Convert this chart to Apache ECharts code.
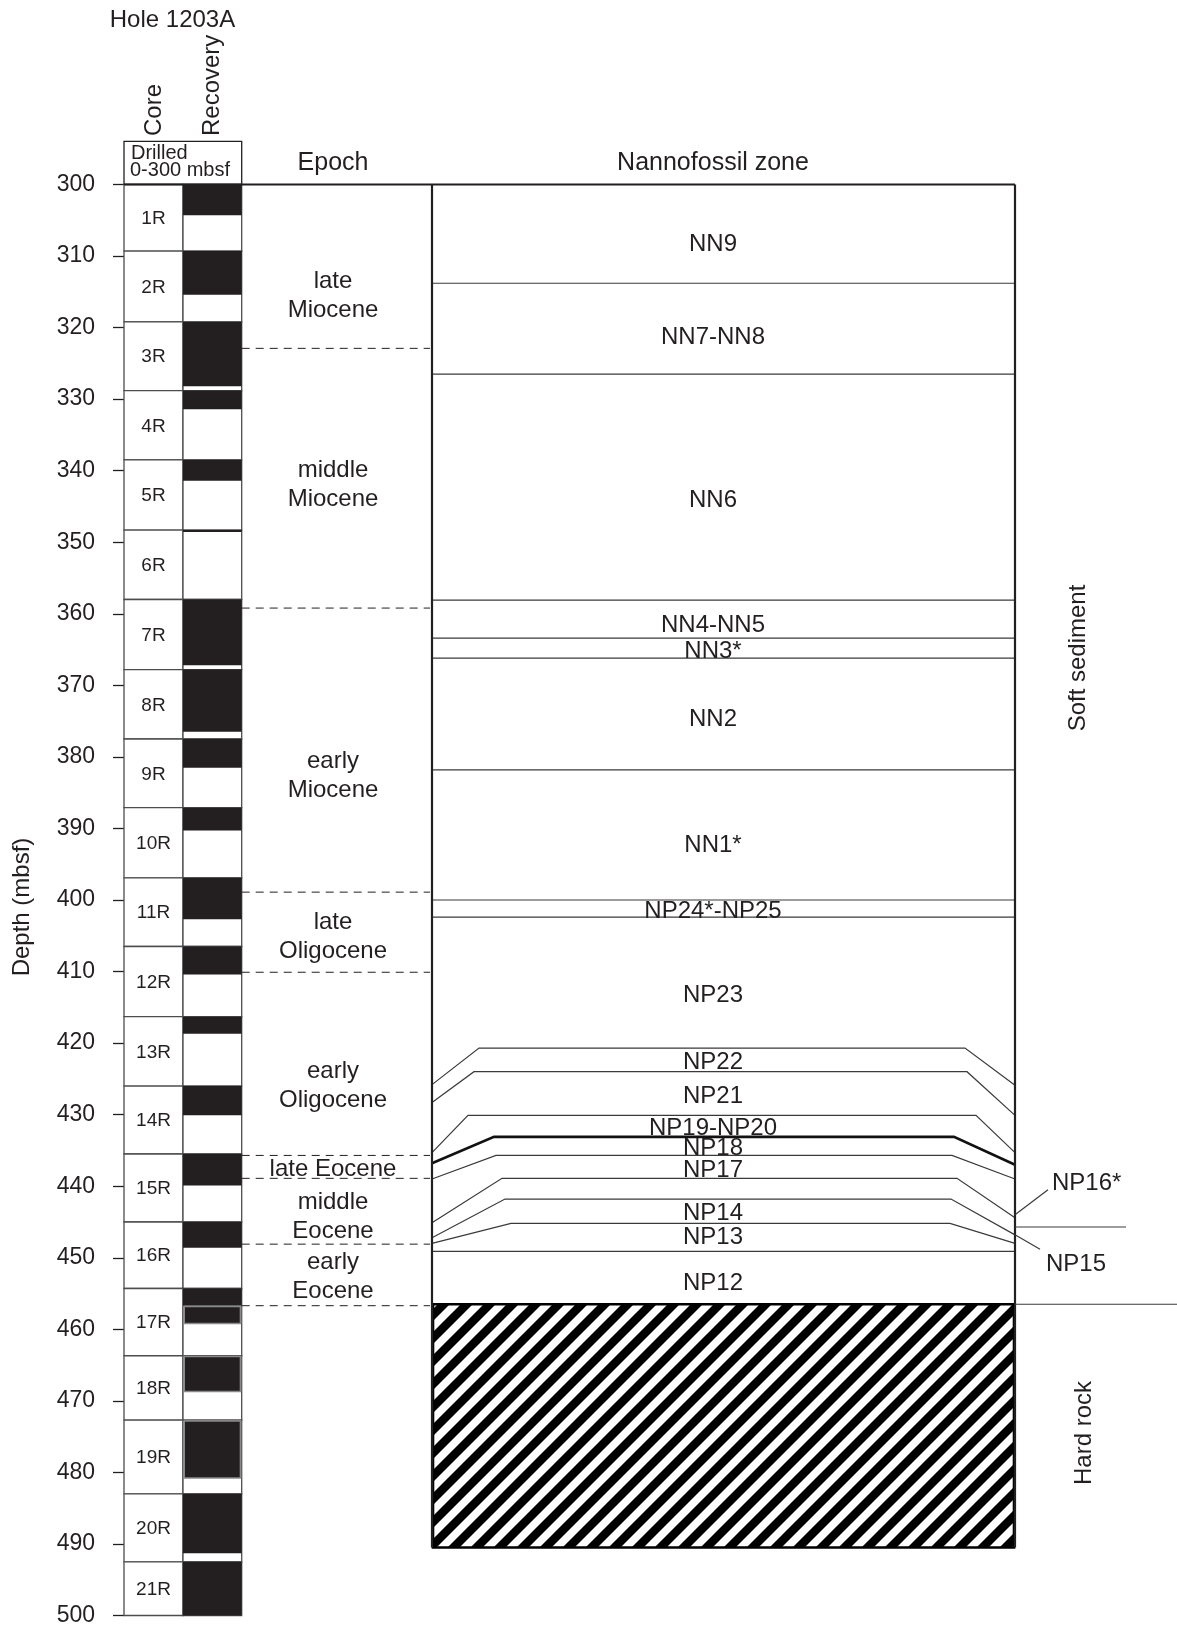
<!DOCTYPE html>
<html><head><meta charset="utf-8">
<script src="https://cdn.jsdelivr.net/npm/echarts@6/dist/echarts.min.js"></script>
<style>html,body{margin:0;padding:0;background:#fff}#c{width:1177px;height:1627px}</style>
</head><body><div id="c"></div>
<script>
// ---------------- DATA ----------------
const depthTicks = [300, 310, 320, 330, 340, 350, 360, 370, 380, 390, 400, 410, 420, 430, 440, 450, 460, 470, 480, 490, 500];
const coreNames = ['1R','2R','3R','4R','5R','6R','7R','8R','9R','10R','11R','12R','13R','14R','15R','16R','17R','18R','19R','20R','21R'];
const coreTops = [300, 309.3, 319.2, 328.8, 338.5, 348.3, 358.0, 367.8, 377.5, 387.1, 396.9, 406.5, 416.3, 426.0, 435.5, 445.0, 454.3, 463.7, 472.7, 483.0, 492.5];
const coreBottom = 500;
const recoveryTops    = [300, 309.3, 319.2, 328.8, 338.5, 348.3, 358.0, 367.8, 377.5, 387.1, 396.9, 406.5, 416.3, 426.0, 435.5, 445.0, 454.3, 456.7, 463.7, 472.7, 483.0, 492.5];
const recoveryBottoms = [304.3, 315.4, 328.2, 331.4, 341.4, 348.55, 367.2, 376.5, 381.5, 390.3, 402.7, 410.4, 418.7, 430.1, 439.9, 448.6, 456.7, 459.3, 468.8, 480.9, 491.3, 500];
const recoveryOutlined = [17, 18, 19];

const epochBounds = [322.9, 359.2, 398.9, 410.1, 435.7, 438.9, 448.1, 456.7];
const epochNames = ['late\nMiocene', 'middle\nMiocene', 'early\nMiocene', 'late\nOligocene', 'early\nOligocene', 'late Eocene', 'middle\nEocene', 'early\nEocene'];
const epochLabelDepths = [315.2, 341.6, 382.3, 404.8, 425.6, 437.2, 443.9, 452.3];

const zoneNames = ['NN9','NN7-NN8','NN6','NN4-NN5','NN3*','NN2','NN1*','NP24*-NP25','NP23','NP22','NP21','NP19-NP20','NP18','NP17','NP14','NP13','NP12'];
const zoneLabelDepths = [308.0, 320.9, 343.7, 361.2, 364.9, 374.4, 392.0, 401.2, 412.9, 422.3, 427.0, 431.5, 434.3, 437.4, 443.4, 446.7, 453.2];
// zone boundaries: depth at left edge, in the centre, at right edge
const boundaryLeft  = [313.8, 326.5, 358.1, 363.4, 366.2, 381.8, 400.0, 402.4, 425.8, 428.3, 435.3, 436.8, 439.0, 445.1, 447.2, 448.0, 449.1];
const boundaryMid   = [313.8, 326.5, 358.1, 363.4, 366.2, 381.8, 400.0, 402.4, 420.7, 424.0, 430.1, 433.1, 435.7, 438.9, 441.8, 445.2, 449.1];
const boundaryRight = [313.8, 326.5, 358.1, 363.4, 366.2, 381.8, 400.0, 402.4, 425.9, 430.1, 435.3, 437.0, 439.0, 444.4, 446.8, 448.0, 449.1];
const thickBoundary = 11;

const hardRockTop = 456.5;
const hardRockBottom = 490.5;
const sideZoneNames = ['NP16*', 'NP15'];
const sideZoneLabelDepths = [439.1, 450.3];
const sideZoneLeaderFrom = [444.0, 446.8];
const sideZoneLeaderTo = [440.5, 448.8];
const sideZoneSplit = 445.7;

// ---------------- LAYOUT (pixel columns) ----------------
const L = {coreL: 124, coreR: 183, recR: 241.7, epochX: 333, dashL: 241.7, dashR: 430,
  zoneL: 432, zoneR: 1015, zoneX: 713, sideEnd: 1177, splitEnd: 1126};
const bendLeftX  = [0,0,0,0,0,0,0,0, 479, 474, 468, 494, 496, 502, 505, 511, 0];
const bendRightX = [0,0,0,0,0,0,0,0, 965, 967, 976, 954, 952, 957, 951, 950, 0];
const TDY = 3; // text baseline nudge
const FONT = '"Liberation Sans", Arial, Helvetica, sans-serif';
const INK = '#231f20';

function hatchPattern() {
  const P = 23, c = document.createElement('canvas');
  c.width = P; c.height = P;
  const g = c.getContext('2d');
  g.fillStyle = '#fff'; g.fillRect(0, 0, P, P);
  g.strokeStyle = '#000'; g.lineWidth = 8.5; g.lineCap = 'square';
  for (let k = -1; k <= 1; k++) { g.beginPath(); g.moveTo(k * P, P); g.lineTo(k * P + P, 0); g.stroke(); }
  return c;
}
const pattern = hatchPattern();

const chart = echarts.init(document.getElementById('c'), null, {renderer: 'canvas'});

function txt(text, x, y, size, align) {
  return {type: 'text', style: {text: text, x: x, y: y, align: align || 'center', verticalAlign: 'middle',
    font: size + 'px ' + FONT, fill: INK}};
}
function vtxt(text, x, y, size, align) {
  return {type: 'text', x: x, y: y, rotation: Math.PI / 2,
    style: {text: text, align: align || 'center', verticalAlign: 'middle', font: size + 'px ' + FONT, fill: INK}};
}

const option = {
  animation: false,
  backgroundColor: '#fff',
  grid: {left: 124, right: 0, top: 184.5, bottom: 9},
  xAxis: {type: 'value', min: 124, max: 1177, show: false},
  yAxis: [
    {type: 'value', min: depthTicks[0], max: depthTicks[depthTicks.length - 1], interval: 10, inverse: true,
      axisLine: {show: false}, splitLine: {show: false},
      axisTick: {show: true, length: 11, lineStyle: {color: INK, width: 1.3}},
      axisLabel: {margin: 29, fontSize: 23, fontFamily: FONT, color: INK,
        formatter: v => depthTicks.indexOf(v) >= 0 ? String(v) : ''}},
    {type: 'value', min: 300, max: 500, interval: 50, inverse: true,
      axisLine: {show: false}, splitLine: {show: false}, axisLabel: {show: false},
      axisTick: {show: true, length: 23, lineStyle: {color: INK, width: 1.3}}}
  ],
  graphic: [
    txt('Hole 1203A', 172.5, 20, 24),
    {type: 'rect', shape: {x: 124, y: 141.3, width: L.recR - 124, height: 43}, style: {fill: 'none', stroke: INK, lineWidth: 1.3}},
    txt('Drilled', 131, 153, 20, 'left'),
    txt('0-300 mbsf', 130, 170, 20, 'left'),
    vtxt('Core', 154, 136, 24, 'left'),
    vtxt('Recovery', 212, 136, 24, 'left'),
    txt('Epoch', 333, 163, 25),
    txt('Nannofossil zone', 713, 163, 25),
    vtxt('Depth (mbsf)', 22, 907, 24),
    vtxt('Soft sediment', 1078, 658, 24),
    vtxt('Hard rock', 1084, 1433, 24)
  ],
  series: [
    // core cells
    {type: 'custom', coordinateSystem: 'cartesian2d', data: coreTops.map((t, i) => [t, i + 1 < coreTops.length ? coreTops[i + 1] : coreBottom]),
      renderItem: (params, api) => {
        const top = api.value(0), bot = api.value(1);
        const a = api.coord([L.coreL, top]), b = api.coord([L.coreR, bot]), c = api.coord([L.recR, bot]);
        const mid = api.coord([(L.coreL + L.coreR) / 2, (top + bot) / 2]);
        return {type: 'group', children: [
          {type: 'rect', shape: {x: a[0], y: a[1], width: b[0] - a[0], height: b[1] - a[1]}, style: {fill: '#fff', stroke: '#4d4d4f', lineWidth: 1.3}},
          {type: 'rect', shape: {x: b[0], y: a[1], width: c[0] - b[0], height: b[1] - a[1]}, style: {fill: '#fff', stroke: '#4d4d4f', lineWidth: 1.3}},
          {type: 'text', style: {text: coreNames[params.dataIndex], x: mid[0], y: mid[1] + 1, align: 'center', verticalAlign: 'middle', font: '19px ' + FONT, fill: INK}}
        ]};
      }},
    // recovery
    {type: 'custom', coordinateSystem: 'cartesian2d', data: recoveryTops.map((t, i) => [t, recoveryBottoms[i]]),
      renderItem: (params, api) => {
        const a = api.coord([L.coreR, api.value(0)]), b = api.coord([L.recR, api.value(1)]);
        const outl = recoveryOutlined.indexOf(params.dataIndex) >= 0;
        return {type: 'rect', shape: {x: a[0] + (outl ? 1.2 : 0), y: a[1] + (outl ? 0.8 : 0), width: b[0] - a[0] - (outl ? 2.4 : 0), height: Math.max(1.6, b[1] - a[1] - (outl ? 1.6 : 0))},
          style: {fill: INK, stroke: outl ? '#8a8a8a' : null, lineWidth: outl ? 1.6 : 0}};
      }},
    // epoch boundaries (dashed)
    {type: 'custom', coordinateSystem: 'cartesian2d', data: epochBounds.map(d => [d]),
      renderItem: (params, api) => {
        const a = api.coord([L.dashL, api.value(0)]), b = api.coord([L.dashR, api.value(0)]);
        return {type: 'line', shape: {x1: a[0], y1: a[1], x2: b[0], y2: b[1]}, style: {stroke: INK, lineWidth: 1, lineDash: [8, 6]}};
      }},
    // epoch labels
    {type: 'custom', coordinateSystem: 'cartesian2d', data: epochLabelDepths.map(d => [d]),
      renderItem: (params, api) => {
        const p = api.coord([L.epochX, api.value(0)]);
        return {type: 'text', style: {text: epochNames[params.dataIndex], x: p[0], y: p[1] + TDY, align: 'center', verticalAlign: 'middle', lineHeight: 29, font: '24px ' + FONT, fill: INK}};
      }},
    // hard rock hatch
    {type: 'custom', coordinateSystem: 'cartesian2d', data: [[hardRockTop, hardRockBottom]],
      renderItem: (params, api) => {
        const a = api.coord([L.zoneL + 1, api.value(0)]), b = api.coord([L.zoneR - 1, api.value(1)]);
        return {type: 'rect', shape: {x: a[0], y: a[1], width: b[0] - a[0], height: b[1] - a[1]},
          style: {fill: {image: pattern, repeat: 'repeat'}, stroke: '#000', lineWidth: 2.6}};
      }},
    // zone boundaries
    {type: 'custom', coordinateSystem: 'cartesian2d', data: boundaryMid.map((m, i) => [boundaryLeft[i], m, boundaryRight[i]]),
      renderItem: (params, api) => {
        const i = params.dataIndex;
        const l = api.value(0), m = api.value(1), r = api.value(2);
        let pts;
        if (l === m && m === r) pts = [api.coord([L.zoneL, l]), api.coord([L.zoneR, r])];
        else pts = [api.coord([L.zoneL, l]), api.coord([bendLeftX[i], m]), api.coord([bendRightX[i], m]), api.coord([L.zoneR, r])];
        return {type: 'polyline', shape: {points: pts}, style: {stroke: i === thickBoundary ? '#111' : '#3a3a3a', lineWidth: i === thickBoundary ? 2.6 : 1.2, fill: null}};
      }},
    // zone labels
    {type: 'custom', coordinateSystem: 'cartesian2d', data: zoneLabelDepths.map(d => [d]),
      renderItem: (params, api) => {
        const p = api.coord([L.zoneX, api.value(0)]);
        return {type: 'text', style: {text: zoneNames[params.dataIndex], x: p[0], y: p[1] + TDY, align: 'center', verticalAlign: 'middle', font: '24px ' + FONT, fill: INK}};
      }},
    // frame: top line, zone column borders, side lines
    {type: 'custom', coordinateSystem: 'cartesian2d', data: [[300, hardRockBottom]],
      renderItem: (params, api) => {
        const top = api.value(0), bot = api.value(1);
        const line = (x1, d1, x2, d2, w, c) => {
          const a = api.coord([x1, d1]), b = api.coord([x2, d2]);
          return {type: 'line', shape: {x1: a[0], y1: a[1], x2: b[0], y2: b[1]}, style: {stroke: c || INK, lineWidth: w}};
        };
        return {type: 'group', children: [
          line(L.coreL, top, L.zoneR, top, 2.2),
          line(L.zoneL, top, L.zoneL, bot, 2.2),
          line(L.zoneR, top, L.zoneR, bot, 2.2),
          line(L.zoneR, hardRockTop, L.sideEnd, hardRockTop, 1.1, '#3a3a3a'),
          line(L.zoneR, sideZoneSplit, L.splitEnd, sideZoneSplit, 1.1, '#3a3a3a')
        ]};
      }},
    // side zone labels with leaders
    {type: 'custom', coordinateSystem: 'cartesian2d', data: sideZoneLabelDepths.map((d, i) => [d, sideZoneLeaderFrom[i], sideZoneLeaderTo[i]]),
      renderItem: (params, api) => {
        const i = params.dataIndex;
        const p = api.coord([i === 0 ? 1052 : 1046, api.value(0)]);
        const a = api.coord([L.zoneR, api.value(1)]), b = api.coord([i === 0 ? 1048 : 1040, api.value(2)]);
        return {type: 'group', children: [
          {type: 'line', shape: {x1: a[0], y1: a[1], x2: b[0], y2: b[1]}, style: {stroke: '#3a3a3a', lineWidth: 1.2}},
          {type: 'text', style: {text: sideZoneNames[i], x: p[0], y: p[1] + TDY + 1, align: 'left', verticalAlign: 'middle', font: '24px ' + FONT, fill: INK}}
        ]};
      }}
  ]
};
chart.setOption(option);
</script>
</body></html>
